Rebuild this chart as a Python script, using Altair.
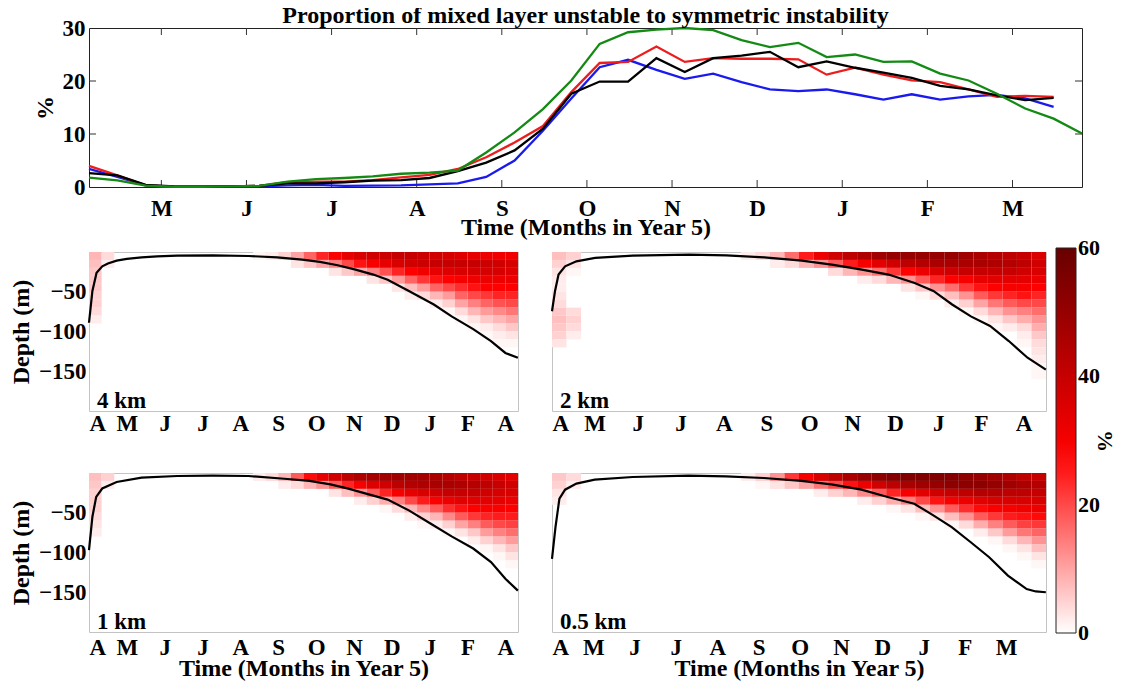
import altair as alt
import pandas as pd

FONT = "Liberation Serif"

# ---------------- top panel data (10-day samples, months since 1 Apr) ----------------
top_t0 = 0.15
top_dt = 1 / 3
top_ticks = [1, 2, 3, 4, 5, 6, 7, 8, 9, 10, 11]
top_tick_labels = ["", "M", "J", "J", "A", "S", "O", "N", "D", "J", "F", "M"]

red = [4.0, 2.2, 0.3, 0.05, 0.05, 0.1, 0.2, 0.9, 1.0, 1.0, 1.3, 1.8, 2.3, 3.4, 5.6, 8.4, 11.5,
       17.9, 23.4, 23.6, 26.5, 23.6, 24.3, 24.2, 24.2, 24.1, 21.2, 22.5, 21.2, 20.1, 19.8,
       18.4, 17.0, 17.2, 17.0]
blue = [3.4, 1.9, 0.3, 0.05, 0.05, 0.05, 0.1, 0.3, 0.4, 0.2, 0.25, 0.3, 0.5, 0.7, 1.9, 5.0, 10.6,
        16.7, 22.6, 24.0, 22.1, 20.4, 21.4, 19.8, 18.4, 18.1, 18.4, 17.5, 16.5, 17.5, 16.5,
        17.1, 17.4, 16.7, 15.1]
black = [2.6, 2.2, 0.4, 0.1, 0.05, 0.1, 0.2, 0.7, 0.7, 0.9, 1.2, 1.3, 1.7, 3.0, 4.6, 6.9, 11.0,
         17.6, 19.9, 19.9, 24.3, 21.7, 24.3, 24.8, 25.5, 22.6, 23.7, 22.5, 21.6, 20.6, 19.1,
         18.4, 17.3, 16.4, 16.8]
green = [1.75, 1.25, 0.25, 0.05, 0.05, 0.1, 0.2, 1.0, 1.5, 1.7, 2.0, 2.5, 2.7, 3.1, 6.5, 10.3, 14.7,
         20.1, 27.0, 29.2, 29.7, 30.0, 29.6, 27.7, 26.4, 27.2, 24.5, 25.0, 23.6, 23.7, 21.4,
         20.1, 17.6, 14.8, 12.9, 10.1]
series = {"blue": (blue, "#1a1aee"), "red": (red, "#ee1c1c"),
          "black": (black, "#000000"), "green": (green, "#138a13")}

# ---------------- heatmap panels ----------------
col_width = 1 / 3          # months per column
row_height = 10            # metres per row
depth_domain = [-200, 0]
bottom_labels = ["A", "M", "J", "J", "A", "S", "O", "N", "D", "J", "F", "A"]
bottom_labels_05 = ["A", "M", "J", "J", "A", "S", "O", "N", "D", "J", "F", "M"]

# % unstable per column (index) from the surface down, 10 m rows
cells_4km = {
    0: [8, 7, 6, 6, 6, 5, 5, 4, 2], 1: [4, 2], 13: [1], 14: [2], 15: [5], 16: [10, 3],
    17: [17, 6], 18: [24, 10], 19: [29, 14, 3], 20: [33, 20, 6], 21: [36, 26, 10],
    22: [38, 30, 14, 3], 23: [39, 33, 19, 6], 24: [40, 36, 24, 11, 3],
    25: [40, 38, 28, 17, 7, 2], 26: [39, 39, 31, 22, 11, 4], 27: [38, 40, 33, 26, 17, 8, 2],
    28: [37, 40, 35, 28, 20, 11, 5, 1], 29: [35, 40, 36, 30, 23, 17, 10, 4, 1],
    30: [33, 40, 37, 31, 26, 20, 14, 8, 3, 1], 31: [32, 39, 37, 32, 28, 22, 17, 11, 6, 2, 1],
    32: [31, 38, 37, 32, 28, 24, 19, 13, 8, 4, 2, 1],
    33: [31, 37, 35, 32, 28, 24, 20, 15, 10, 6, 3, 1],
}
cells_2km = {
    0: [7, 5, 3, 2, 2, 3, 4, 6, 7, 6, 5, 3], 1: [5, 3, 1, 0, 0, 0, 0, 4, 5, 4, 2],
    13: [2], 14: [4], 15: [8, 2], 16: [16, 4], 17: [25, 8], 18: [32, 12], 19: [38, 18, 4],
    20: [42, 25, 8], 21: [45, 30, 12, 2], 22: [48, 34, 16, 4], 23: [50, 38, 22, 8],
    24: [50, 42, 28, 12, 3], 25: [50, 44, 32, 18, 6, 1], 26: [50, 46, 36, 24, 12, 4],
    27: [50, 46, 38, 28, 16, 7, 2], 28: [48, 46, 40, 30, 22, 12, 5, 1],
    29: [46, 46, 40, 33, 26, 18, 10, 4, 1], 30: [44, 45, 40, 34, 28, 22, 15, 8, 3, 1],
    31: [42, 44, 40, 34, 30, 24, 18, 12, 6, 2], 32: [40, 42, 38, 34, 30, 26, 20, 14, 9, 4, 2, 1],
    33: [36, 38, 36, 32, 28, 24, 20, 16, 12, 9, 6, 4, 3, 2, 1, 1],
}
cells_1km = {
    0: [7, 6, 5, 5, 5, 4, 3, 2], 1: [5, 2], 13: [2], 14: [4], 15: [8, 2], 16: [18, 4],
    17: [27, 8], 18: [33, 12], 19: [38, 18, 3], 20: [42, 24, 7], 21: [45, 30, 12, 2],
    22: [47, 35, 18, 5], 23: [48, 38, 24, 9, 1], 24: [48, 42, 30, 14, 4],
    25: [48, 44, 33, 20, 8, 2], 26: [47, 45, 36, 25, 13, 5, 1], 27: [46, 46, 38, 29, 18, 8, 2],
    28: [44, 46, 40, 32, 23, 13, 5, 1], 29: [42, 45, 40, 34, 26, 18, 10, 3],
    30: [40, 44, 40, 34, 28, 22, 14, 6, 2], 31: [38, 42, 38, 34, 29, 24, 18, 11, 5, 1],
    32: [36, 40, 37, 33, 29, 25, 20, 14, 8, 3, 1],
    33: [34, 38, 36, 32, 28, 25, 21, 16, 11, 6, 3, 1],
}
cells_05km = {
    0: [6, 5, 3, 2], 1: [4, 2], 13: [2], 14: [5, 1], 15: [12, 3], 16: [22, 6], 17: [30, 10],
    18: [36, 15, 2], 19: [42, 20, 5], 20: [46, 26, 8], 21: [50, 32, 13, 2],
    22: [52, 38, 18, 5], 23: [54, 42, 24, 9, 1], 24: [55, 46, 30, 14, 3],
    25: [55, 48, 34, 20, 7, 1], 26: [55, 50, 38, 26, 12, 3], 27: [54, 52, 40, 30, 18, 7, 1],
    28: [52, 52, 42, 32, 23, 12, 4], 29: [50, 52, 44, 34, 27, 18, 9, 2],
    30: [48, 50, 44, 36, 29, 22, 14, 6, 1], 31: [45, 48, 42, 36, 30, 25, 18, 11, 4, 1],
    32: [42, 46, 42, 36, 31, 26, 21, 15, 8, 3, 1],
    33: [40, 44, 40, 36, 32, 27, 22, 17, 12, 7, 3, 1],
}

# mixed layer depth (m) against time (months)
mld_t_4km = [0.0, 0.09, 0.2, 0.35, 0.5, 0.73, 1.0, 1.39, 1.8, 2.33, 3.27, 4.21, 4.97, 5.63, 6.1,
             6.57, 7.04, 7.51, 7.89, 8.45, 9.11, 9.58, 10.15, 10.62, 11.0, 11.33]
mld_d_4km = [-89, -49, -26, -18, -14.4, -10.9, -8.7, -6.7, -5.6, -4.6, -4.2, -5.0, -6.7, -9.6,
             -12.5, -16.7, -22.2, -28.4, -34.8, -49, -66, -81, -97, -112, -127, -133]
mld_t_2km = [0.0, 0.07, 0.15, 0.3, 0.56, 0.99, 1.85, 3.15, 4.0, 4.87, 5.73, 6.42, 7.11, 7.72,
             8.32, 8.75, 9.18, 9.61, 10.05, 10.48, 10.91, 11.33]
mld_d_2km = [-74.5, -49, -28.4, -18, -11.7, -7.5, -4.6, -3.4, -4.2, -6.7, -10.9, -15.9, -22.2,
             -28.4, -39, -49, -66, -81, -93, -112, -133, -148]
mld_t_1km = [0.0, 0.09, 0.19, 0.35, 0.73, 1.39, 2.33, 3.27, 4.21, 5.16, 5.82, 6.38, 6.85, 7.32,
             7.89, 8.45, 9.02, 9.58, 10.15, 10.62, 11.0, 11.33]
mld_d_1km = [-97, -55, -30, -19.5, -11.3, -5.8, -3.8, -3.4, -3.8, -7.2, -10, -14.3, -19.7, -26,
             -33.5, -47, -63.6, -79.7, -95, -112, -133, -148]
mld_t_05km = [0.0, 0.08, 0.17, 0.3, 0.56, 0.98, 1.85, 3.13, 3.99, 4.86, 5.72, 6.41, 7.1, 7.7,
              8.31, 8.74, 9.17, 9.6, 10.03, 10.46, 10.89, 11.1, 11.33]
mld_d_05km = [-108, -68, -32.3, -21, -13.3, -8.4, -5, -3.4, -4.2, -6.3, -10, -14.3, -21, -30.2,
              -38.6, -53, -68, -86.8, -106, -129, -146, -149, -150]

# tick positions (months) of the month labels in each panel
ticks_left = [0, 1, 2, 3, 4, 5, 6, 7, 8, 9, 10, 11]
ticks_2km = [0, 0.98, 1.97, 2.95, 3.94, 4.92, 5.9, 6.89, 7.87, 8.86, 9.84, 10.82]
ticks_05km = [0, 0.95, 1.89, 2.84, 3.79, 4.74, 5.68, 6.63, 7.58, 8.53, 9.47, 10.42]

color_domain = [0, 28, 60]
color_range = ["#ffffff", "#ff0000", "#680000"]
colorbar_values = [0.001, 20, 40, 59.999]

# ---------------- build ----------------
label_style = dict(labelFont=FONT, labelFontSize=23, labelFontWeight="bold", labelColor="black",
                   titleFont=FONT, titleFontSize=24, titleFontWeight="bold", titleColor="black",
                   labelOverlap=False, tickCount=40)

TOP_W, TOP_H = 993, 159
rows = []
for name, (vals, col) in series.items():
    for k, v in enumerate(vals):
        rows.append({"series": name, "t": top_t0 + k * top_dt, "v": v})
top_df = pd.DataFrame(rows)

xscale_top = alt.Scale(domain=[top_t0, top_t0 + 35 * top_dt], nice=False, zero=False)
yscale_top = alt.Scale(domain=[0, 30], nice=False)
top_label_expr = "[" + ",".join("'%s'" % s for s in top_tick_labels) + "][datum.value]"

top_layers = []
for name, (vals, col) in series.items():
    top_layers.append(
        alt.Chart(top_df).transform_filter(alt.datum.series == name).mark_line(
            color=col, strokeWidth=2.3).encode(
            x=alt.X("t:Q", scale=xscale_top,
                    axis=alt.Axis(values=top_ticks, labelExpr=top_label_expr, ticks=False,
                                  domain=False, grid=False, labelPadding=10, titlePadding=-5,
                                  title="Time (Months in Year 5)", **label_style)),
            y=alt.Y("v:Q", scale=yscale_top,
                    axis=alt.Axis(values=[0, 10, 20, 30], ticks=False, domain=False, grid=False,
                                  labelPadding=4, title="%", titlePadding=5, **label_style)),
        )
    )
tick_df = pd.DataFrame({"t": top_ticks})
xt_bot = alt.Chart(tick_df).mark_rule(color="#333", strokeWidth=1).encode(
    x=alt.X("t:Q", scale=xscale_top), y=alt.value(TOP_H), y2=alt.value(TOP_H - 7))
xt_top = alt.Chart(tick_df).mark_rule(color="#333", strokeWidth=1).encode(
    x=alt.X("t:Q", scale=xscale_top), y=alt.value(0), y2=alt.value(7))
ytick_df = pd.DataFrame({"v": [10, 20]})
yt_l = alt.Chart(ytick_df).mark_rule(color="#333", strokeWidth=1).encode(
    y=alt.Y("v:Q", scale=yscale_top), x=alt.value(0), x2=alt.value(7))
yt_r = alt.Chart(ytick_df).mark_rule(color="#333", strokeWidth=1).encode(
    y=alt.Y("v:Q", scale=yscale_top), x=alt.value(TOP_W), x2=alt.value(TOP_W - 7))

top = alt.layer(xt_bot, xt_top, yt_l, yt_r, *top_layers).properties(
    width=TOP_W, height=TOP_H,
    title=alt.TitleParams("Proportion of mixed layer unstable to symmetric instability",
                          font=FONT, fontSize=24, fontWeight="bold", color="black",
                          anchor="middle", offset=-11),
    view=alt.ViewBackground(stroke="#222", strokeWidth=1),
)


def heat_panel(name, cells, mld_t, mld_d, width, ticks, labels, show_y, bottom_row, legend):
    recs = []
    for j, prof in cells.items():
        for r, v in enumerate(prof):
            recs.append({"x0": j * col_width, "x1": (j + 1) * col_width,
                         "d0": -r * row_height, "d1": -(r + 1) * row_height, "v": v})
    hdf = pd.DataFrame(recs)
    xs = alt.Scale(domain=[0, 34 * col_width], nice=False, zero=False)
    ys = alt.Scale(domain=depth_domain, nice=False, zero=False)
    lab_expr = "[" + ",".join("'%s'" % s for s in labels) + "][indexof(%s, datum.value)]" % (
        "[" + ",".join(str(t) for t in ticks) + "]")
    xaxis = alt.Axis(values=ticks, labelExpr=lab_expr, ticks=False, domain=False, grid=False,
                     labelPadding=4 if bottom_row else 1, titlePadding=-3,
                     title="Time (Months in Year 5)" if bottom_row else None, **label_style)
    yaxis = (alt.Axis(values=[-150, -100, -50], ticks=False, domain=False, grid=False,
                      labelPadding=3, title="Depth (m)", titlePadding=5, **label_style)
             if show_y else None)
    if legend:
        leg = alt.Legend(orient="none", legendX=967, legendY=220, direction="vertical",
                         gradientLength=385, gradientThickness=20, gradientStrokeColor="#222",
                         gradientStrokeWidth=1, values=colorbar_values,
                         labelExpr="format(round(datum.value), 'd')", labelFont=FONT,
                         labelFontSize=22, labelFontWeight="bold", labelColor="black",
                         labelOffset=2, title="%",
                         titleOrient="right", titleFont=FONT, titleFontSize=22,
                         titleFontWeight="bold", titleColor="black", titlePadding=-7)
    else:
        leg = None
    rect = alt.Chart(hdf).mark_rect(stroke=None).encode(
        x=alt.X("x0:Q", scale=xs, axis=xaxis),
        x2="x1:Q",
        y=alt.Y("d0:Q", scale=ys, axis=yaxis),
        y2="d1:Q",
        color=alt.Color("v:Q", scale=alt.Scale(domain=color_domain, range=color_range,
                                               interpolate="rgb", clamp=True), legend=leg),
    )
    ldf = pd.DataFrame({"t": mld_t, "d": mld_d})
    line = alt.Chart(ldf).mark_line(color="black", strokeWidth=2.2).encode(
        x=alt.X("t:Q", scale=xs), y=alt.Y("d:Q", scale=ys))
    txt = alt.Chart(pd.DataFrame({"label": [name]})).mark_text(
        font=FONT, fontSize=23, fontWeight="bold", color="black", align="left",
        baseline="middle").encode(text="label:N", x=alt.value(8), y=alt.value(149))
    return alt.layer(rect, line, txt).properties(
        width=width, height=159, view=alt.ViewBackground(stroke="#c4c4c4", strokeWidth=1))


LW, RW = 429, 494
p4 = heat_panel("4 km", cells_4km, mld_t_4km, mld_d_4km, LW, ticks_left, bottom_labels,
                True, False, True)
p2 = heat_panel("2 km", cells_2km, mld_t_2km, mld_d_2km, RW, ticks_2km, bottom_labels,
                False, False, False)
p1 = heat_panel("1 km", cells_1km, mld_t_1km, mld_d_1km, LW, ticks_left, bottom_labels,
                True, True, False)
p05 = heat_panel("0.5 km", cells_05km, mld_t_05km, mld_d_05km, RW, ticks_05km,
                 bottom_labels_05, False, True, False)

row1 = alt.hconcat(p4, p2, spacing=24)
row2 = alt.hconcat(p1, p05, spacing=24)
maps = alt.vconcat(row1, row2, spacing=34)

chart = alt.vconcat(top, maps, spacing=9).properties(
    padding={"left": 0, "top": -5, "right": 0, "bottom": 0},
    background="white",
)

chart.save("out.html", embed_options={"renderer": "svg", "actions": False})
